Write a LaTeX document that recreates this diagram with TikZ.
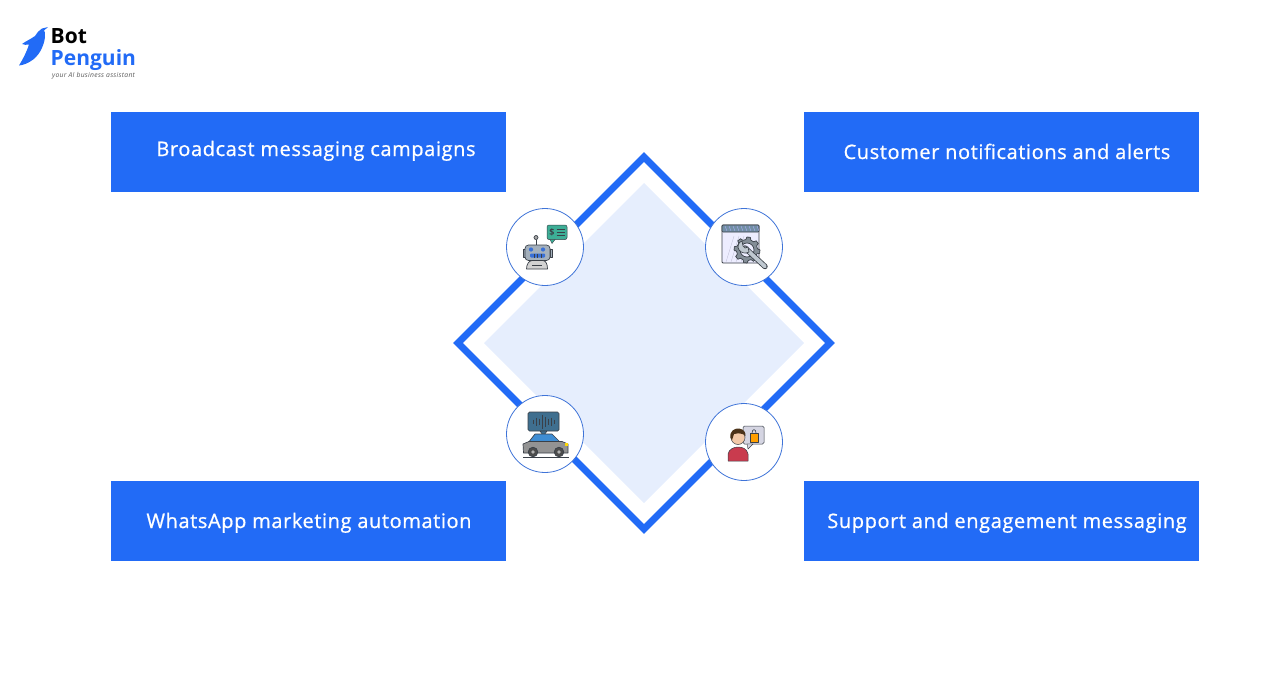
\documentclass[tikz,border=0pt]{standalone}
\usepackage{fontspec}
\setmainfont{Open Sans}
\newfontfamily\boxfont[FakeBold=0.8,LetterSpace=3.0]{Open Sans}
\newfontfamily\tagfont[LetterSpace=4]{Open Sans}
\usetikzlibrary{calc,positioning}
\definecolor{brandblue}{HTML}{226BF6}
\definecolor{paleblue}{HTML}{E6EEFD}
\definecolor{inkgrey}{HTML}{3A4048}
\definecolor{botgreen}{HTML}{3DAE96}
\definecolor{steel}{HTML}{A4B0BC}
\definecolor{hatchblue}{HTML}{3F6F8F}
\definecolor{skin}{HTML}{F3C9A8}
\definecolor{shirt}{HTML}{C93B4E}
\tikzset{
        block/.style = {rectangle, fill=brandblue, text=white,
            minimum height=80pt,
            minimum width=395pt},
        label/.style = {text=white, anchor=base, font=\boxfont\fontsize{20}{24}\selectfont, inner sep=0pt},
        badge/.style = {draw=brandblue!85!black!85!white, fill=white, circle, line width=.8pt, minimum size=77pt, inner sep=0pt},
        icon/.style = {draw=inkgrey, line width=.7pt, line join=round},
    }
\begin{document}
\begin{tikzpicture}[x=1pt,y=-1pt]
    \useasboundingbox (0,0) rectangle (1288,686);

    % logo
    \fill[brandblue] (48,27) -- (42,28.5) .. controls (39,30) and (37,33) .. (35,36) .. controls (31,39) and (26,41) .. (22,44)
        .. controls (24,45) and (27,45) .. (29,44.5) .. controls (27,51) and (23,59) .. (19,65.5)
        .. controls (24,65) and (28,63) .. (31,61) .. controls (38,57) and (44,47) .. (45,37)
        .. controls (45,33) and (45,31) .. (44,30.5) -- cycle;
    \node[anchor=base west, inner sep=0pt, font=\fontsize{21}{24}\selectfont\bfseries] (logotop) at (50.5,43) {Bot};
    \node[anchor=base west, inner sep=0pt, text=brandblue, font=\fontsize{21}{24}\selectfont\bfseries] (logomid) at (50.5,65) {Penguin};
    \node[anchor=west, inner sep=0pt, text=black!65, font=\tagfont\fontsize{6.8}{8}\selectfont\itshape] (logotag) at (52,76) {your AI business assistant};

    % diamond
    \coordinate (mid) at (644,343);
    \draw[brandblue, line width=7pt, miter limit=10]
        ($(mid)+(0,-186)$) -- ($(mid)+(186,0)$) -- ($(mid)+(0,186)$) -- ($(mid)+(-186,0)$) -- cycle;
    \fill[paleblue] ($(mid)+(0,-160)$) -- ($(mid)+(160,0)$) -- ($(mid)+(0,160)$) -- ($(mid)+(-160,0)$) -- cycle;

    % boxes
    \node[block] (b1) at (308.5,152) {};
    \node[block] (b2) at (1001.5,152) {};
    \node[block] (b3) at (308.5,521) {};
    \node[block] (b4) at (1001.5,521) {};
    \node[label] (t1) at (316,156) {Broadcast messaging campaigns};
    \node[label] (t2) at (1007,159) {Customer notifications and alerts};
    \node[label] (t3) at (309,528) {WhatsApp marketing automation};
    \node[label] (t4) at (1007,528) {Support and engagement messaging};

    % badges
    \node[badge] (c1) at (545,247) {};
    \node[badge] (c2) at (744,247) {};
    \node[badge] (c3) at (545,434) {};
    \node[badge] (c4) at (744,442) {};

    % robot
    \draw[icon, fill=botgreen, line width=.5pt, rounded corners=2pt] (547,225) rectangle (567,239.5);
    \fill[botgreen, draw=inkgrey, line width=.4pt] (550,239.5) -- (552,243.5) -- (555,239.5) -- cycle;
    \node[text=inkgrey, font=\fontsize{9}{9}\selectfont\bfseries, inner sep=0pt] (dollar) at (552,232) {\$};
    \foreach \y in {229,232,235} \draw[inkgrey, line width=.6pt] (556.5,\y) -- (564.5,\y);
    \draw[icon] (536,240) -- (536,245);
    \draw[icon, fill=gray!70] (536,237.5) circle (2pt);
    \draw[icon, fill=steel] (525.5,249) rectangle (523,257);
    \draw[icon, fill=steel] (550,249) rectangle (552,257);
    \draw[icon, fill=steel, rounded corners=3.5pt] (525,245) rectangle (550,260.5);
    \fill[brandblue!75!gray] (531,249.5) circle (2.1pt) (543,249.5) circle (2.1pt);
    \fill[brandblue!75!gray, rounded corners=1pt] (530,253.5) rectangle (545,257.5);
    \foreach \x in {534,537.5,541} \draw[inkgrey, line width=.3pt] (\x,253.5) -- (\x,257.5);
    \draw[icon, fill=gray!35] (526.5,269) .. controls (526.5,264) and (529,261) .. (532,260.5) -- (543,260.5)
        .. controls (546,261) and (547.5,264) .. (547.5,269) -- cycle;
    \draw[inkgrey, line width=.5pt] (532,265.5) -- (542,265.5);

    % wrench window
    \draw[icon, fill=blue!7, line width=.8pt, rounded corners=1pt] (722,225) rectangle (759,263);
    \draw[icon, fill=steel!50!hatchblue, rounded corners=1pt] (722,225) rectangle (759,232);
    \foreach \x in {725,729,...,757} \draw[white!70!blue, line width=.35pt] (\x,226) -- (\x+2,231);
    \foreach \x in {726,731,...,741} \draw[blue!20!gray!45, line width=.3pt] (\x,262) -- (\x+8,236);
    \fill[steel!80!black, draw=inkgrey, line width=.7pt, line join=round]
        (747,250) +(0:13) -- +(15:13) -- +(22:10.5) -- +(38:10.5) -- +(45:13) -- +(60:13) -- +(67:10.5) -- +(83:10.5)
        -- +(90:13) -- +(105:13) -- +(112:10.5) -- +(128:10.5) -- +(135:13) -- +(150:13) -- +(157:10.5) -- +(173:10.5)
        -- +(180:13) -- +(195:13) -- +(202:10.5) -- +(218:10.5) -- +(225:13) -- +(240:13) -- +(247:10.5) -- +(263:10.5)
        -- +(270:13) -- +(285:13) -- +(292:10.5) -- +(308:10.5) -- +(315:13) -- +(330:13) -- +(337:10.5) -- +(353:10.5) -- cycle;
    \draw[icon, fill=blue!7] (747,250) circle (7pt);
    \draw[inkgrey, line width=5.4pt, line cap=round] (745,248) -- (765,266.5);
    \draw[steel!70!white, line width=3.8pt, line cap=round] (745,248) -- (765,266.5);
    \draw[icon, fill=steel!70!white] (742,241) .. controls (738,242) and (737,247) .. (739,250) .. controls (741,253) and (746,254) .. (749,252)
        -- (748,247) -- (745,248) -- (743,246) -- cycle;

    % car with bubble
    \draw[icon, fill=hatchblue, rounded corners=1.5pt] (528,412) rectangle (559,431);
    \fill[hatchblue, draw=inkgrey, line width=.5pt] (540,431) -- (543.5,436) -- (547,431) -- cycle;
    \foreach \x/\h in {533/2,536/4,539/3,542/7,545/5,548/3,551/4,554/2}
        \draw[inkgrey, line width=.7pt] (\x,421.5-\h) -- (\x,421.5+\h);
    \draw[icon, fill=cyan!60!blue!80] (528,443) -- (535,434) -- (552,434) -- (561,443) -- cycle;
    \draw[icon, fill=gray!85] (523.5,453) -- (523,444) -- (529,441.5) -- (562,441.5) -- (568,444) -- (568,453) -- cycle;
    \fill[yellow!75!orange] (565,442.5) rectangle (567.5,445.5);
    \draw[icon, fill=black!70] (533,452) circle (4.8pt);
    \draw[icon, fill=black!70] (559,452) circle (4.8pt);
    \fill[gray!60] (533,452) circle (1.8pt) (559,452) circle (1.8pt);
    \draw[inkgrey, line width=.9pt] (523,457) -- (569,457);

    % person with bubble
    \draw[icon, fill=blue!18!gray!28, rounded corners=1.5pt, line width=.5pt] (743,426) rectangle (764,444);
    \fill[blue!18!gray!28, draw=inkgrey, line width=.4pt] (747,444) -- (748,449) -- (753,444) -- cycle;
    \draw[icon, fill=orange!75!yellow, line width=.5pt] (750,433) rectangle (758,442);
    \draw[inkgrey, line width=.6pt] (752,433) .. controls (752,428.5) and (756,428.5) .. (756,433);
    \draw[icon, fill=shirt, line width=.5pt] (728,461) -- (728,454) .. controls (729,449) and (734,447) .. (738,447)
        .. controls (743,447) and (747,449) .. (748,454) -- (748,461) -- cycle;
    \draw[icon, fill=skin, line width=.5pt] (738,437.5) circle (7pt);
    \fill[black!60!brown] (730.5,438) .. controls (729,431) and (735,428) .. (739,428.5)
        .. controls (744,429) and (746,433) .. (745.5,436) .. controls (743,433) and (738,433) .. (734,434) -- (732,440) -- cycle;
\end{tikzpicture}
\end{document}
